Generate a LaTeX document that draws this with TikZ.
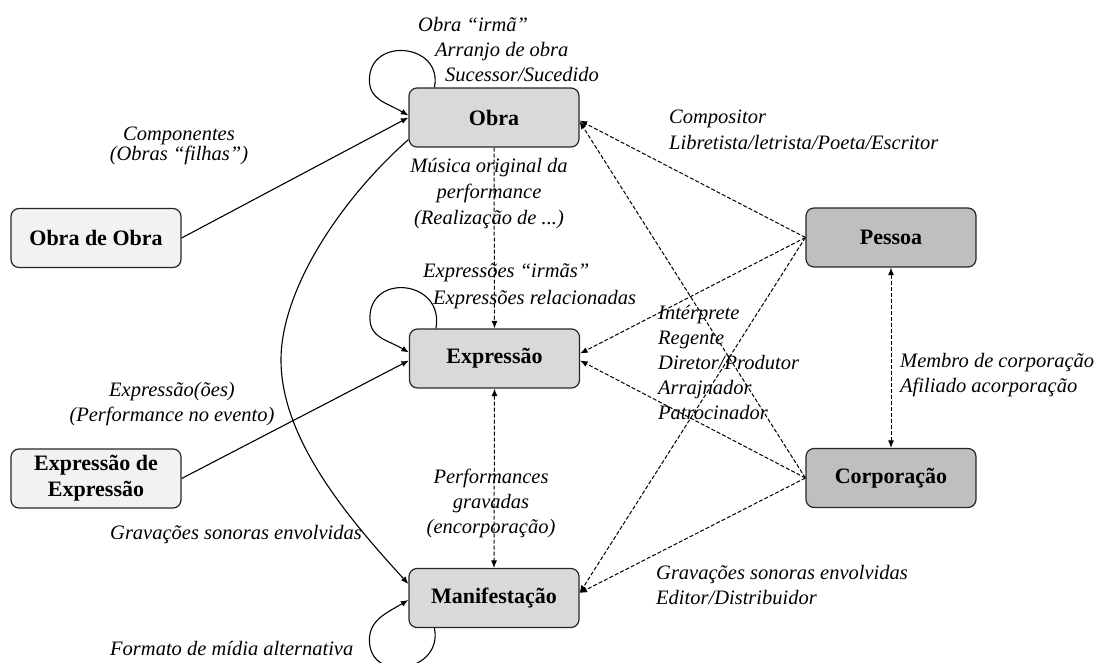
\documentclass[tikz,border=0pt]{standalone}
\usepackage{fontspec}
\setmainfont{Liberation Serif}
\usetikzlibrary{arrows.meta,backgrounds}
\begin{document}
\begin{tikzpicture}[x=1pt,y=-1pt,
  >={Latex[length=7.5pt,width=6pt]},
  ent/.style={draw=black!85,line width=1.2pt,rounded corners=8pt,
    minimum width=170pt,minimum height=59pt,inner sep=0pt,align=center,
    font=\fontsize{22}{26}\selectfont\bfseries},
  core/.style={ent,fill=gray!30},
  agent/.style={ent,fill=gray!50},
  aux/.style={ent,fill=gray!10},
  lbl/.style={inner sep=0pt,font=\fontsize{20.5}{25}\selectfont\itshape},
  rel/.style={line width=1.1pt,->},
  dep/.style={line width=1pt,dash pattern=on 4pt off 2pt,->},
  bidep/.style={line width=1pt,dash pattern=on 4pt off 2pt,<->}
]
\useasboundingbox (0,0) rectangle (1101,662);
\clip (0,0) rectangle (1101,662);

% entities
\node[core] (obra) at (494,117.5) {Obra};
\node[core] (expr) at (494.5,358.5) {Expressão};
\node[core] (manif) at (494,598) {Manifestação};
\node[aux] (obraobra) at (96,238) {Obra de Obra};
\node[aux] (exprexpr) at (96,478.5) {Expressão de\\Expressão};
\node[agent] (pessoa) at (891,237.5) {Pessoa};
\node[agent] (corp) at (891,478) {Corporação};

% relationship labels
\node[lbl,anchor=west,align=left] (lobra) at (418,50)
  {Obra “irmã”\\\hspace*{17pt}Arranjo de obra\\\hspace*{27pt}Sucessor/Sucedido};
\node[lbl,align=center,font=\fontsize{20.5}{19.5}\selectfont\itshape] (lcomp) at (179,146)
  {Componentes\\(Obras “filhas”)};
\node[lbl,align=center,font=\fontsize{20.5}{26}\selectfont\itshape] (lmus) at (489,194)
  {Música original da\\performance\\(Realização de ...)};
\node[lbl,anchor=west,align=left,font=\fontsize{20.5}{27}\selectfont\itshape] (lexpr) at (423,286.5)
  {Expressões “irmãs”\\\hspace*{10pt}Expressões relacionadas};
\node[lbl,align=center] (lexex) at (172,404.5)
  {Expressão(ões)\\(Performance no evento)};
\node[lbl,align=center] (lperf) at (491,503)
  {Performances\\gravadas\\(encorporação)};
\node[lbl,anchor=west] (lgrav) at (110,535) {Gravações sonoras envolvidas};
\node[lbl,anchor=west] (lform) at (110,648) {Formato de mídia alternativa};
\node[lbl,anchor=west,align=left,font=\fontsize{20.5}{26}\selectfont\itshape] (lautor) at (669,130)
  {Compositor\\Libretista/letrista/Poeta/Escritor};
\node[lbl,anchor=west,align=left] (lint) at (658,362)
  {Intérprete\\Regente\\Diretor/Produtor\\Arrajnador\\Patrocinador};
\node[lbl,anchor=west,align=left] (lmemb) at (900,375.5)
  {Membro de corporação\\Afiliado acorporação};
\node[lbl,anchor=west,align=left] (ledit) at (656,584.5)
  {Gravações sonoras envolvidas\\Editor/Distribuidor};

% leftmost points of the self-relation loops
\coordinate (obraloop) at ([xshift=-39pt,yshift=37.5pt]obra.west);
\coordinate (exprloop) at ([xshift=-39pt,yshift=40.5pt]expr.west);
\coordinate (manifloop) at ([xshift=-39pt,yshift=-42pt]manif.west);
\coordinate (bend) at (281,360);

\begin{scope}[on background layer]
  % self relations
  \draw[rel] ([xshift=26pt]obra.north west) .. controls +(9,-44) and +(0,-44) .. (obraloop)
    .. controls +(0,20) and +(-22,-13) .. ([yshift=2pt]obra.west);
  \draw[rel] ([xshift=27pt]expr.north west) .. controls +(9,-48) and +(0,-46) .. (exprloop)
    .. controls +(0,20) and +(-22,-13) .. ([yshift=6pt]expr.west);
  \draw[rel] ([xshift=26pt]manif.south west) .. controls +(9,44) and +(0,44) .. (manifloop)
    .. controls +(0,-20) and +(-22,13) .. ([yshift=-2pt]manif.west);
  % aggregates
  \draw[rel] (obraobra.east) -- (obra.west);
  \draw[rel] (exprexpr.east) -- ([yshift=-2pt]expr.west);
  % work to manifestation
  \draw[rel] ([yshift=8pt]obra.south west) .. controls (340,200) and (281,290) .. (bend)
    .. controls (281,440) and (350,520) .. ([yshift=14pt]manif.west);
  % realization chain
  \draw[dep] (obra.south) -- (expr.north);
  \draw[bidep] (expr.south) -- (manif.north);
  % agents
  \draw[dep] (pessoa.west) -- ([yshift=-3pt]obra.east);
  \draw[dep] (corp.west) -- ([yshift=-4pt]obra.east);
  \draw[dep] (pessoa.west) -- ([yshift=5pt]expr.east);
  \draw[dep] (corp.west) -- ([yshift=-2pt]expr.east);
  \draw[dep] (pessoa.west) -- ([yshift=5pt]manif.east);
  \draw[dep] (corp.west) -- ([yshift=5pt]manif.east);
  \draw[bidep] (pessoa.south) -- (corp.north);
\end{scope}
\end{tikzpicture}
\end{document}
